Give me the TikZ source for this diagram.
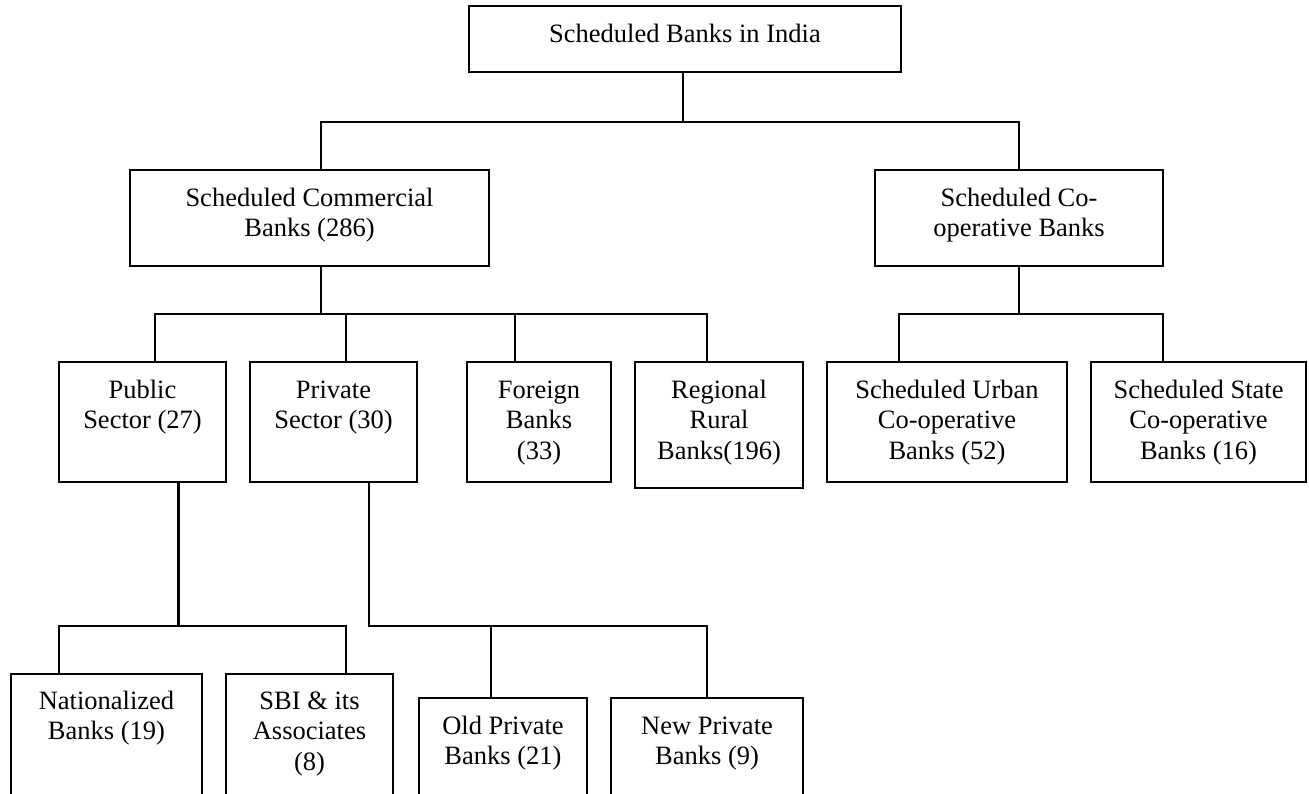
\documentclass[tikz,border=0pt]{standalone}
\usepackage{fontspec}
\setmainfont{Liberation Serif}
\begin{document}
\begin{tikzpicture}[x=0.5pt,y=-0.5pt,line width=1.1pt,
  box/.style={draw,rectangle,inner sep=0pt},
  lbl/.style={align=center,inner sep=0pt,anchor=base,font=\fontsize{13.25}{15.25}\selectfont}]
\clip (0,0) rectangle (1309,793);
% boxes
\node[box,minimum width=216pt,minimum height=33pt] (top) at (685,39) {};
\node[box,minimum width=179.5pt,minimum height=48pt] (comm) at (309.5,218) {};
\node[box,minimum width=144pt,minimum height=48pt] (coop) at (1019,218) {};
\node[box,minimum width=83.5pt,minimum height=60pt] (pub) at (142.5,422) {};
\node[box,minimum width=83.5pt,minimum height=60pt] (priv) at (333.5,422) {};
\node[box,minimum width=72pt,minimum height=60pt] (forg) at (539,422) {};
\node[box,minimum width=84pt,minimum height=63pt] (rrb) at (719,425) {};
\node[box,minimum width=120pt,minimum height=60pt] (urb) at (947,422) {};
\node[box,minimum width=107.5pt,minimum height=60pt] (state) at (1198.5,422) {};
\node[box,minimum width=95.5pt,minimum height=78pt] (nat) at (106.5,752) {};
\node[box,minimum width=83.5pt,minimum height=78pt] (sbi) at (309.5,752) {};
\node[box,minimum width=84pt,minimum height=66pt] (old) at (503,764) {};
\node[box,minimum width=96pt,minimum height=66pt] (new) at (707,764) {};
% texts (anchor = baseline of last line)
\node[lbl] (topT) at (685,42) {Scheduled Banks in India};
\node[lbl] (commT) at (309.5,236.5) {Scheduled Commercial\\Banks (286)};
\node[lbl] (coopT) at (1019,236.5) {Scheduled Co-\\operative Banks};
\node[lbl] (pubT) at (142.5,428.5) {Public\\Sector (27)};
\node[lbl] (privT) at (333.5,428.5) {Private\\Sector (30)};
\node[lbl] (forgT) at (539,459) {Foreign\\Banks\\(33)};
\node[lbl] (rrbT) at (719,459) {Regional\\Rural\\Banks(196)};
\node[lbl] (urbT) at (947,459) {Scheduled Urban\\Co-operative\\Banks (52)};
\node[lbl] (stateT) at (1198.5,459) {Scheduled State\\Co-operative\\Banks (16)};
\node[lbl] (natT) at (106.5,739.5) {Nationalized\\Banks (19)};
\node[lbl] (sbiT) at (309.5,770) {SBI \& its\\Associates\\(8)};
\node[lbl] (oldT) at (503,764.5) {Old Private\\Banks (21)};
\node[lbl] (newT) at (707,764.5) {New Private\\Banks (9)};
% junction coordinates
\coordinate (tM) at (683,122);
\coordinate (dComm) at (321,122);
\coordinate (dCoop) at (1019,122);
\coordinate (cM) at (321,314);
\coordinate (dPub) at (155,314);
\coordinate (dPriv) at (346,314);
\coordinate (dForg) at (515,314);
\coordinate (dRrb) at (707,314);
\coordinate (oM) at (1019,314);
\coordinate (dUrb) at (899,314);
\coordinate (dState) at (1163,314);
\coordinate (pM) at (178.5,626);
\coordinate (dNat) at (59,626);
\coordinate (dSbi) at (346,626);
\coordinate (qM) at (369,626);
\coordinate (dOld) at (491,626);
\coordinate (dNew) at (707,626);
% connectors
\draw (top.south -| tM) -- (tM);
\draw (comm.north -| dComm) |- (dCoop) -- (coop.north -| dCoop);
\draw (comm.south -| cM) -- (cM);
\draw (pub.north -| dPub) |- (dRrb) -- (rrb.north -| dRrb);
\draw (priv.north -| dPriv) -- (dPriv);
\draw (forg.north -| dForg) -- (dForg);
\draw (coop.south -| oM) -- (oM);
\draw (urb.north -| dUrb) |- (dState) -- (state.north -| dState);
\draw (pub.south -| pM) -- (pM);
\draw (nat.north -| dNat) |- (dSbi) -- (sbi.north -| dSbi);
\draw (priv.south -| qM) |- (dNew) -- (new.north -| dNew);
\draw (old.north -| dOld) -- (dOld);
\end{tikzpicture}
\end{document}
